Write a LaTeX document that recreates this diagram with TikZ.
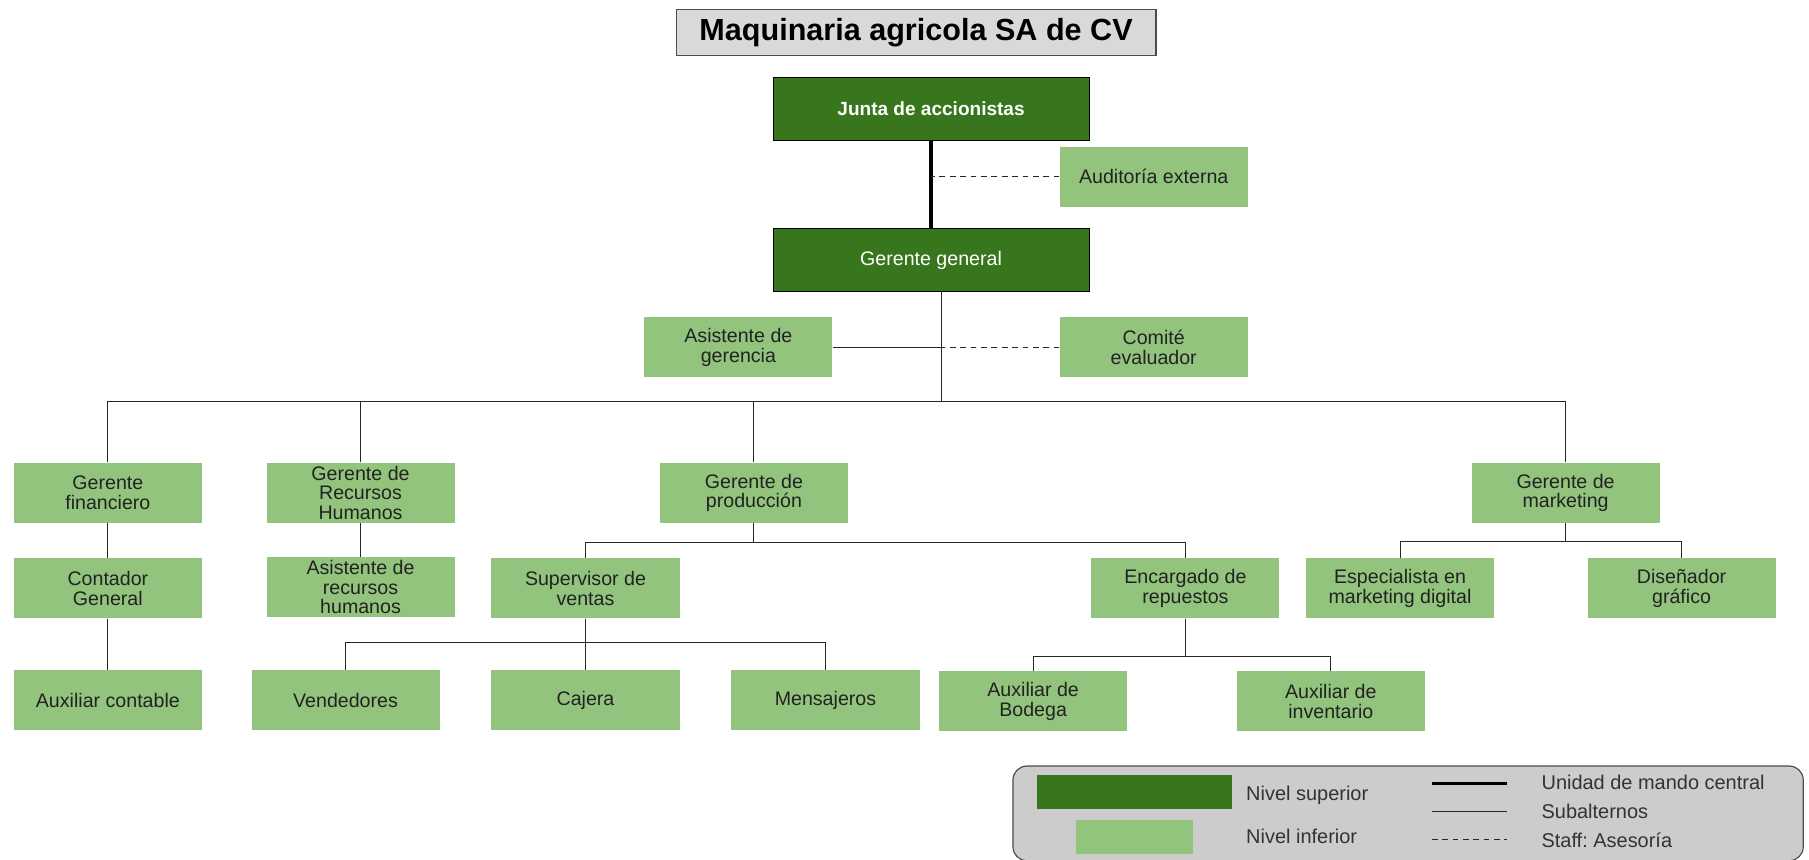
\documentclass[tikz,border=0pt]{standalone}
\usepackage{fontspec}
\setmainfont{Liberation Sans}
\definecolor{dg}{HTML}{38761D}
\definecolor{lg}{HTML}{93C47D}
\definecolor{titlegray}{HTML}{D9D9D9}
\definecolor{leggray}{HTML}{CCCCCC}
\definecolor{txt}{HTML}{222222}
\frenchspacing
\begin{document}
\begin{tikzpicture}[x=1pt,y=-1pt,
  base/.style={rectangle, inner sep=0pt, align=center, text=txt,
    font=\fontsize{17}{16.8}\selectfont},
  lgbox/.style={base, fill=lg, minimum width=163pt, minimum height=52pt},
  dgbox/.style={base, fill=dg, draw=black, line width=0.8pt, minimum width=274pt, minimum height=54pt, text=white},
  conn/.style={draw=black!85, line width=0.9pt},
  thickconn/.style={draw=black, line width=3.5pt},
  staff/.style={draw=black!85, line width=0.9pt, dash pattern=on 5pt off 4pt},
  legtext/.style={anchor=west, inner sep=0pt, text=black!80, font=\fontsize{17.3}{19}\selectfont}
]
\useasboundingbox (0,0) rectangle (1568,745);
\fill[white] (0,0) rectangle (1568,745);

% title
\node[base, fill=titlegray, draw=black!70, line width=1pt, minimum width=416pt, minimum height=40pt,
  font=\fontsize{26.5}{28}\selectfont\bfseries, text=black] (title) at (794,28) {Maquinaria agricola SA de CV};

% top levels
\node[dgbox, font=\fontsize{16.5}{18}\selectfont\bfseries] (junta) at (807,94.5) {Junta de accionistas};
\node[dgbox, minimum height=55pt] (gg) at (807,225.5) {Gerente general};
\node[lgbox] (aud) at (1000,153) {Auditoría externa};
\node[lgbox] (asis) at (640,301) {Asistente de\\gerencia};
\node[lgbox] (comite) at (1000,301) {Comité\\evaluador};

% level 1
\node[lgbox] (gf) at (93.5,427) {Gerente\\financiero};
\node[lgbox] (grh) at (312.5,427) {Gerente de\\Recursos\\Humanos};
\node[lgbox] (gp) at (653.5,427) {Gerente de\\producción};
\node[lgbox] (gm) at (1357,427) {Gerente de\\marketing};

% level 2
\node[lgbox] (cg) at (93.5,510) {Contador\\General};
\node[lgbox] (arh) at (312.5,509) {Asistente de\\recursos\\humanos};
\node[lgbox] (sv) at (507.5,510) {Supervisor de\\ventas};
\node[lgbox] (er) at (1027.5,510) {Encargado de\\repuestos};
\node[lgbox] (emd) at (1213.5,510) {Especialista en\\marketing digital};
\node[lgbox] (dis) at (1457.5,510) {Diseñador\\gráfico};

% level 3
\node[lgbox] (ac) at (93.5,607) {Auxiliar contable};
\node[lgbox] (ven) at (299.5,607) {Vendedores};
\node[lgbox] (caj) at (507.5,607) {Cajera};
\node[lgbox] (men) at (715.5,607) {Mensajeros};
\node[lgbox] (ab) at (895.5,608) {Auxiliar de\\Bodega};
\node[lgbox] (ai) at (1153.5,608) {Auxiliar de\\inventario};

% bus coordinates
\coordinate (g0) at ([xshift=9pt]gg.south);
\coordinate (b1) at (816,348);
\coordinate (pb) at (0,470);
\coordinate (mb) at (0,469);
\coordinate (sb) at (0,557);
\coordinate (eb) at (0,569);

% connectors
\draw[thickconn] (junta.south) -- (gg.north);
\draw[staff] (aud.west) -- (aud.west -| junta.south);
\draw[conn] (g0) -- (b1);
\draw[conn] (asis.east) -- (asis.east -| g0);
\draw[staff] (comite.west) -- (comite.west -| g0);
\draw[conn] (gf.north) -- (gf.north |- b1) -- (gm.north |- b1) -- (gm.north);
\draw[conn] (grh.north) -- (grh.north |- b1);
\draw[conn] (gp.north) -- (gp.north |- b1);

\draw[conn] (gf.south) -- (cg.north);
\draw[conn] (cg.south) -- (ac.north);
\draw[conn] (grh.south) -- (arh.north);

\draw[conn] (gp.south) -- (gp.south |- pb);
\draw[conn] (sv.north) -- (sv.north |- pb) -- (er.north |- pb) -- (er.north);

\draw[conn] (gm.south) -- (gm.south |- mb);
\draw[conn] (emd.north) -- (emd.north |- mb) -- (dis.north |- mb) -- (dis.north);

\draw[conn] (sv.south) -- (caj.north);
\draw[conn] (ven.north) -- (ven.north |- sb) -- (men.north |- sb) -- (men.north);

\draw[conn] (er.south) -- (er.south |- eb);
\draw[conn] (ab.north) -- (ab.north |- eb) -- (ai.north |- eb) -- (ai.north);

% legend
\node[rectangle, rounded corners=12pt, fill=leggray, draw=black!70, line width=1pt,
  minimum width=685pt, minimum height=82pt, inner sep=0pt] (leg) at (1220.5,705) {};
\node[rectangle, fill=dg, minimum width=169pt, minimum height=29pt, inner sep=0pt] (lsup) at (983.5,686.5) {};
\node[rectangle, fill=lg, minimum width=101pt, minimum height=29pt, inner sep=0pt] (linf) at (983.5,725.5) {};
\node[legtext] (tsup) at (1080,689) {Nivel superior};
\node[legtext] (tinf) at (1080,725) {Nivel inferior};
\coordinate (l1a) at (1241,679);
\coordinate (l1b) at (1306,679);
\coordinate (l2a) at (1241,703);
\coordinate (l2b) at (1306,703);
\coordinate (l3a) at (1241,728);
\coordinate (l3b) at (1306,728);
\draw[draw=black, line width=3pt] (l1a) -- (l1b);
\draw[conn] (l2a) -- (l2b);
\draw[staff] (l3a) -- (l3b);
\node[legtext] (t1) at (1336,678) {Unidad de mando central};
\node[legtext] (t2) at (1336,703) {Subalternos};
\node[legtext] (t3) at (1336,728) {Staff: Asesoría};
\end{tikzpicture}
\end{document}
